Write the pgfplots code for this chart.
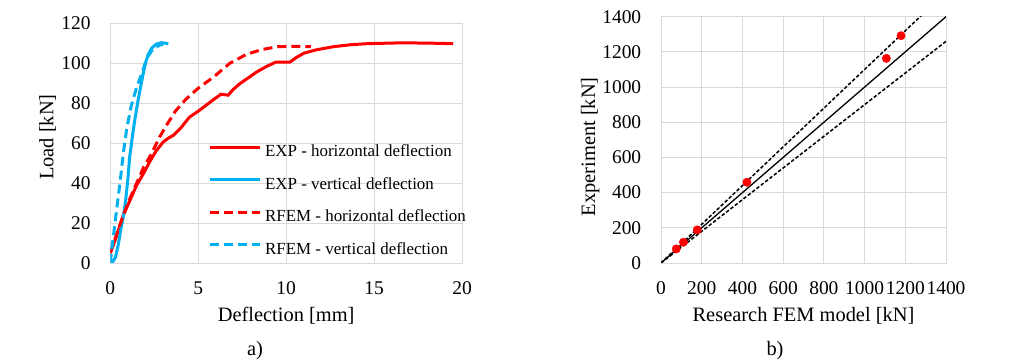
\documentclass[border=0pt]{standalone}
\usepackage{pgfplots}
\pgfplotsset{compat=1.18}
\usepackage{fontspec}
\setmainfont{Liberation Serif}
\definecolor{xred}{HTML}{FF0000}
\definecolor{xblue}{HTML}{00B0F0}
\definecolor{xgrid}{HTML}{D9D9D9}
\begin{document}
\begin{tikzpicture}
\path (0,0) rectangle (1013bp,364bp);
\pgfplotsset{
  every axis/.append style={
    scale only axis, anchor=south west,
    axis line style={draw=xgrid, line width=0.8bp},
    grid=major, major grid style={draw=xgrid, line width=0.8bp},
    major tick length=0pt, tick style={draw=none},
    /pgf/number format/assume math mode=true,
    /pgf/number format/1000 sep={},
    tick label style={font=\fontsize{19.5}{22}\selectfont, inner sep=0pt},
    xticklabel style={anchor=center, yshift=-25bp},
    yticklabel style={anchor=east, xshift=-19.6bp},
    label style={font=\fontsize{20.5}{24}\selectfont, inner sep=0pt},
    xlabel style={at={(axis description cs:0.5,0)}, anchor=base, yshift=-58.7bp},
    clip=true,
  }
}
\begin{axis}[
  at={(110.3bp,101bp)}, width=351.7bp, height=239.7bp,
  xmin=0, xmax=20, ymin=0, ymax=120,
  xtick={0,5,10,15,20}, ytick={0,20,40,60,80,100,120},
  xlabel={Deflection [mm]}, ylabel={Load [kN]},
  ylabel style={at={(axis description cs:-0.162,0.525)}, anchor=base, rotate=0},
  legend style={draw=none, fill=none, at={(axis description cs:0.278,0.493)}, anchor=north west,
    inner sep=0pt, outer sep=0pt, row sep=16.5bp, column sep=4bp,
    font=\fontsize{17}{20}\selectfont,
    nodes={inner sep=0pt, text height=12bp, text depth=4bp}},
  legend cell align=left,
  legend image code/.code={\draw[#1, yshift=5.7bp] (0bp,0bp) -- (50bp,0bp);},
]
\addplot[xred, line width=3bp] coordinates {
(0,5) (0.3,12) (0.74,24) (1.1,31) (1.5,39) (1.9,45) (2.26,51) (2.6,56) (3.0,60.5) (3.3,62.5) (3.6,64) (4.0,67.5) (4.5,73) (5.0,76) (5.3,78) (5.9,82) (6.3,84.5) (6.7,84) (7.0,87) (7.4,90) (7.9,93) (8.3,95.5) (8.9,98.5) (9.4,100.5) (10.2,100.5) (10.6,103) (11.0,105) (11.7,106.7) (12.7,108.3) (13.7,109.3) (14.6,109.8) (16.5,110.2) (18,110.1) (19.5,109.8)};
\addlegendentry{EXP - horizontal deflection}
\addplot[xblue, line width=3bp] coordinates {
(0.1,0) (0.3,3) (0.45,9) (0.6,17) (0.74,23) (0.88,32) (1.0,42) (1.1,53) (1.25,63) (1.4,72) (1.55,80) (1.7,87) (1.85,94) (2.0,100) (2.16,104.5) (2.35,107.5) (2.6,109.5) (2.9,110.3) (3.3,109.8)};
\addlegendentry{EXP - vertical deflection}
\addplot[xred, line width=3bp, dash pattern=on 9bp off 5bp] coordinates {
(0,5) (0.5,18) (1.0,30) (1.5,40) (1.9,48) (2.3,54) (2.8,63) (3.2,69) (3.7,76) (4.3,82) (5.0,87.5) (5.9,93.3) (6.8,100) (7.75,104.5) (8.6,106.8) (9.5,108.3) (10.5,108.5) (11.4,108.3)};
\addlegendentry{RFEM - horizontal deflection}
\addplot[xblue, line width=3bp, dash pattern=on 9bp off 5bp] coordinates {
(0,0) (0.1,8) (0.2,15) (0.35,26) (0.55,40) (0.74,55) (0.93,67) (1.2,79) (1.5,88) (1.8,95) (2.07,102.5) (2.45,107.5) (2.8,109) (3.0,109.5)};
\addlegendentry{RFEM - vertical deflection}
\end{axis}
\begin{axis}[
  at={(661bp,101bp)}, width=285bp, height=246.3bp,
  xmin=0, xmax=1400, ymin=0, ymax=1400,
  xtick={0,200,...,1400}, ytick={0,200,...,1400},
  xlabel={Research FEM model [kN]}, ylabel={Experiment [kN]},
  ylabel style={at={(axis description cs:-0.2316,0.472)}, anchor=base, rotate=0},
]
\addplot[black, line width=1.3bp] coordinates {(0,0) (1400,1400)};
\addplot[black, line width=1.5bp, dash pattern=on 3.5bp off 2bp] coordinates {(0,0) (1400,1540)};
\addplot[black, line width=1.5bp, dash pattern=on 3.5bp off 2bp] coordinates {(0,0) (1400,1260)};
\addplot[only marks, mark=*, mark size=4.2bp, xred, mark options={draw=xred, fill=xred}] coordinates {
(75,80) (110,118) (178,188) (422,459) (1107,1163) (1179,1292)};
\end{axis}
\node[anchor=base, font=\fontsize{20.5}{24}\selectfont] at (255bp,9bp) {a)};
\node[anchor=base, font=\fontsize{20.5}{24}\selectfont] at (775bp,9bp) {b)};
\end{tikzpicture}
\end{document}
